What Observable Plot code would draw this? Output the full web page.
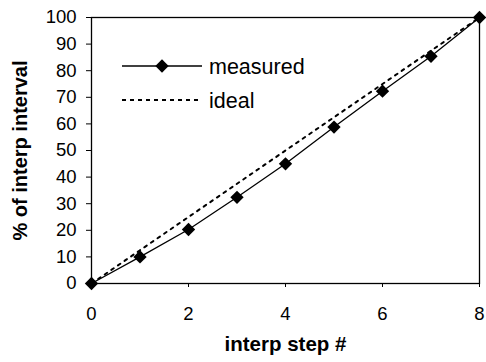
<!DOCTYPE html>
<html><head><meta charset="utf-8">
<script src="https://cdn.jsdelivr.net/npm/d3@7"></script>
<script src="https://cdn.jsdelivr.net/npm/@observablehq/plot@0.6"></script>
<style>
body{margin:0;background:#fff;}
#wrap{position:relative;width:486px;height:362px;}
#legend{position:absolute;left:0;top:0;}
#wrap g[aria-label$="tick label"], #wrap g[aria-label$="tick label"] text{font-size:18.5px !important;}
</style></head><body><div id="wrap"></div>
<script>
const steps = [0, 1, 2, 3, 4, 5, 6, 7, 8];
const measured = [0, 10, 20.3, 32.4, 45, 58.8, 72.3, 85.4, 100];
const ideal = [0, 12.5, 25, 37.5, 50, 62.5, 75, 87.5, 100];
const xTicks = [0, 2, 4, 6, 8];
const yTicks = [0, 10, 20, 30, 40, 50, 60, 70, 80, 90, 100];
const seriesNames = ["measured", "ideal"];
const xTitle = "interp step #";
const yTitle = "% of interp interval";

const mData = steps.map((s, i) => ({x: s, y: measured[i]}));
const iData = steps.map((s, i) => ({x: s, y: ideal[i]}));
const FONT = "'Liberation Sans', Arial, sans-serif";

const chart = Plot.plot({
  width: 486, height: 362,
  marginLeft: 91, marginRight: 7, marginTop: 17, marginBottom: 79,
  style: {fontFamily: FONT, fontSize: "18.5px", background: "#fff", color: "#000"},
  x: {domain: [0, 8]},
  y: {domain: [0, 100]},
  marks: [
    Plot.frame({stroke: "#000", strokeWidth: 1.3}),
    Plot.axisY({ticks: yTicks, tickSize: 5, tickPadding: 10, label: null, stroke: "#000", fill: "#000", fontSize: 18.5}),
    Plot.axisX({ticks: xTicks, tickSize: 4, tickPadding: 19, label: null, stroke: "#000", fill: "#000", fontSize: 18.5}),
    Plot.line(iData, {x: "x", y: "y", stroke: "#000", strokeWidth: 2, strokeDasharray: "3,5"}),
    Plot.line(mData, {x: "x", y: "y", stroke: "#000", strokeWidth: 1.3}),
    Plot.dot(mData, {x: "x", y: "y", symbol: "diamond2", r: 6, fill: "#000", stroke: "none"}),
    Plot.text([xTitle], {frameAnchor: "bottom", dy: 67, fontWeight: "bold", fontSize: 20.5, fill: "#000"}),
    Plot.text([yTitle], {frameAnchor: "left", textAnchor: "middle", dx: -71, rotate: -90, fontWeight: "bold", fontSize: 20, fill: "#000"})
  ]
});
const wrap = document.getElementById("wrap");
wrap.appendChild(chart);

// legend overlay
const leg = d3.select(wrap).append("svg").attr("id", "legend").attr("width", 486).attr("height", 362)
  .style("font-family", FONT);
const rows = [{y: 66, dash: null, w: 1.3, marker: true}, {y: 100, dash: "4,4", w: 2, marker: false}];
rows.forEach((r, i) => {
  const g = leg.append("g");
  g.append("line").attr("x1", 122).attr("x2", 202).attr("y1", r.y).attr("y2", r.y)
    .attr("stroke", "#000").attr("stroke-width", r.w).attr("stroke-dasharray", r.dash);
  if (r.marker) g.append("path").attr("d", d3.symbol(d3.symbolDiamond2, Math.PI * 6 * 6)())
    .attr("transform", `translate(162,${r.y})`).attr("fill", "#000");
  g.append("text").attr("x", 209).attr("y", r.y).attr("dy", "0.35em").attr("font-size", 21.5)
    .attr("fill", "#000").text(seriesNames[i]);
});
</script></body></html>
